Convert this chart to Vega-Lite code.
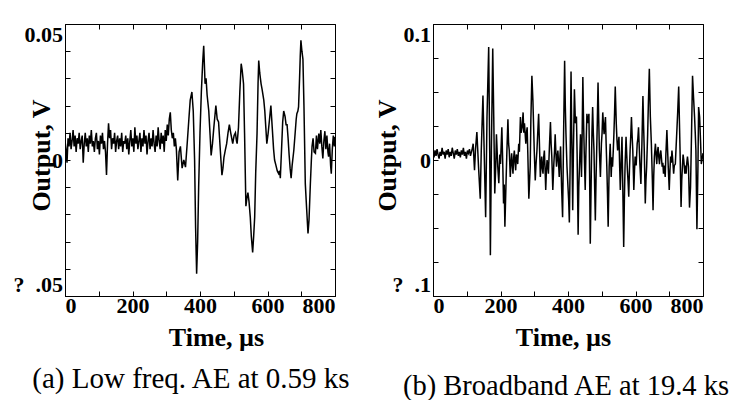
{
"$schema":"https://vega.github.io/schema/vega-lite/v6.json",
"background":"white",
"padding":{"left":12,"top":22,"right":5,"bottom":5},
"bounds":"flush",
"spacing":98,
"config":{
"font":"Times New Roman",
"view":{"stroke":"black","strokeWidth":1},
"axis":{"labelFont":"Times New Roman","titleFont":"Times New Roman","labelColor":"black","titleColor":"black","domainColor":"black","tickColor":"black","grid":false,"labelFontWeight":"bold","titleFontWeight":"bold","labelFontSize":22,"titleFontSize":26,"tickSize":5,"domainWidth":1,"tickWidth":1,"labelOverlap":false,"labelBound":false}
},
"datasets":{
"a":[{"t":0,"v":0.007},{"t":3,"v":0.004},{"t":6,"v":-0.001},{"t":9,"v":0.008},{"t":12,"v":0.005},{"t":15,"v":0.010},{"t":18,"v":0.004},{"t":21,"v":0.007},{"t":24,"v":0.011},{"t":27,"v":0.005},{"t":30,"v":0.009},{"t":33,"v":0.003},{"t":36,"v":0.008},{"t":39,"v":0.006},{"t":42,"v":0.010},{"t":45,"v":0.004},{"t":48,"v":0.007},{"t":51,"v":0.009},{"t":54,"v":-0.001},{"t":57,"v":0.006},{"t":60,"v":0.010},{"t":63,"v":0.005},{"t":66,"v":0.008},{"t":69,"v":0.003},{"t":72,"v":0.009},{"t":75,"v":0.006},{"t":78,"v":0.011},{"t":81,"v":0.005},{"t":84,"v":0.007},{"t":87,"v":0.003},{"t":90,"v":0.008},{"t":93,"v":0.010},{"t":96,"v":0.004},{"t":99,"v":0.007},{"t":102,"v":0.002},{"t":105,"v":0.009},{"t":108,"v":0.006},{"t":111,"v":0.010},{"t":114,"v":0.004},{"t":117,"v":0.007},{"t":120,"v":0.003},{"t":123,"v":-0.0055},{"t":126,"v":0.006},{"t":129,"v":0.0135},{"t":132,"v":0.008},{"t":135,"v":0.011},{"t":138,"v":0.004},{"t":141,"v":0.008},{"t":144,"v":0.006},{"t":147,"v":0.010},{"t":150,"v":0.003},{"t":153,"v":0.007},{"t":156,"v":0.009},{"t":159,"v":0.004},{"t":162,"v":0.008},{"t":165,"v":0.005},{"t":168,"v":0.010},{"t":171,"v":0.003},{"t":174,"v":0.007},{"t":177,"v":0.006},{"t":180,"v":0.009},{"t":183,"v":0.004},{"t":186,"v":0.008},{"t":189,"v":0.002},{"t":192,"v":0.007},{"t":195,"v":0.011},{"t":198,"v":0.005},{"t":201,"v":0.008},{"t":204,"v":0.003},{"t":207,"v":0.012},{"t":210,"v":0.006},{"t":213,"v":0.009},{"t":216,"v":0.004},{"t":219,"v":0.007},{"t":222,"v":0.010},{"t":225,"v":0.003},{"t":228,"v":0.008},{"t":231,"v":0.005},{"t":234,"v":0.011},{"t":237,"v":0.006},{"t":240,"v":0.009},{"t":243,"v":0.002},{"t":246,"v":0.007},{"t":249,"v":0.010},{"t":252,"v":0.004},{"t":255,"v":0.008},{"t":258,"v":0.005},{"t":261,"v":0.011},{"t":264,"v":0.006},{"t":267,"v":0.003},{"t":270,"v":0.009},{"t":273,"v":0.005},{"t":276,"v":0.012},{"t":279,"v":0.007},{"t":282,"v":0.004},{"t":285,"v":0.010},{"t":288,"v":0.006},{"t":291,"v":0.009},{"t":294,"v":0.003},{"t":297,"v":0.011},{"t":300,"v":0.007},{"t":303,"v":0.013},{"t":306,"v":0.009},{"t":309,"v":0.015},{"t":312,"v":0.0175},{"t":315,"v":0.011},{"t":318,"v":0.008},{"t":321,"v":0.010},{"t":324,"v":0.005},{"t":327,"v":0.008},{"t":330,"v":0.004},{"t":334,"v":-0.0075},{"t":338,"v":0.003},{"t":342,"v":0.005},{"t":347,"v":-0.003},{"t":352,"v":0},{"t":357,"v":-0.0026},{"t":362,"v":0.006},{"t":367,"v":0.015},{"t":371,"v":0.022},{"t":376,"v":0.025},{"t":380,"v":0.018},{"t":384,"v":0},{"t":387,"v":-0.025},{"t":390,"v":-0.0418},{"t":393,"v":-0.030},{"t":396,"v":-0.010},{"t":400,"v":0.010},{"t":404,"v":0.025},{"t":408,"v":0.036},{"t":411,"v":0.042},{"t":413,"v":0.035},{"t":415,"v":0.028},{"t":418,"v":0.030},{"t":421,"v":0.024},{"t":426,"v":0.018},{"t":430,"v":0.009},{"t":433,"v":0.0017},{"t":437,"v":0.006},{"t":441,"v":0.012},{"t":444,"v":0.016},{"t":447,"v":0.020},{"t":451,"v":0.015},{"t":455,"v":0.014},{"t":458,"v":0.008},{"t":462,"v":0},{"t":465,"v":-0.0056},{"t":468,"v":-0.003},{"t":471,"v":0.001},{"t":475,"v":0.0036},{"t":479,"v":0.006},{"t":483,"v":0.010},{"t":487,"v":0.013},{"t":491,"v":0.010},{"t":494,"v":0.008},{"t":497,"v":0.006},{"t":501,"v":0.009},{"t":505,"v":0.010},{"t":508,"v":0.007},{"t":510,"v":0.006},{"t":514,"v":0.012},{"t":518,"v":0.025},{"t":522,"v":0.0354},{"t":525,"v":0.033},{"t":529,"v":0.028},{"t":532,"v":0.010},{"t":536,"v":-0.017},{"t":539,"v":-0.014},{"t":542,"v":-0.012},{"t":545,"v":-0.015},{"t":549,"v":-0.021},{"t":552,"v":-0.028},{"t":556,"v":-0.034},{"t":559,"v":-0.028},{"t":562,"v":-0.021},{"t":565,"v":-0.005},{"t":569,"v":0.0097},{"t":572,"v":0.028},{"t":574,"v":0.0366},{"t":577,"v":0.032},{"t":581,"v":0.028},{"t":584,"v":0.026},{"t":589,"v":0.022},{"t":592,"v":0.018},{"t":595,"v":0.012},{"t":598,"v":0.006},{"t":602,"v":0.010},{"t":606,"v":0.015},{"t":610,"v":0.020},{"t":614,"v":0.012},{"t":618,"v":0.004},{"t":621,"v":0},{"t":625,"v":-0.002},{"t":629,"v":-0.004},{"t":633,"v":-0.005},{"t":636,"v":-0.004},{"t":638,"v":-0.0067},{"t":642,"v":0.005},{"t":645,"v":0.014},{"t":648,"v":0.018},{"t":652,"v":0.016},{"t":655,"v":0.013},{"t":658,"v":0.013},{"t":661,"v":0.008},{"t":664,"v":0.002},{"t":667,"v":-0.003},{"t":670,"v":-0.0067},{"t":673,"v":-0.002},{"t":678,"v":0.0036},{"t":682,"v":0.010},{"t":685,"v":0.015},{"t":687,"v":0.017},{"t":690,"v":0.018},{"t":692,"v":0.0195},{"t":695,"v":0.030},{"t":697,"v":0.038},{"t":699,"v":0.044},{"t":702,"v":0.040},{"t":705,"v":0.037},{"t":708,"v":0.020},{"t":712,"v":-0.0087},{"t":716,"v":-0.018},{"t":720,"v":-0.027},{"t":723,"v":-0.022},{"t":727,"v":-0.0087},{"t":730,"v":0},{"t":732,"v":0.005},{"t":735,"v":0.008},{"t":738,"v":0.003},{"t":742,"v":0.0025},{"t":745,"v":0.009},{"t":748,"v":0.004},{"t":752,"v":0.0097},{"t":755,"v":0.006},{"t":758,"v":0.011},{"t":761,"v":0.005},{"t":764,"v":0.0006},{"t":767,"v":0.007},{"t":770,"v":0.0106},{"t":773,"v":0.004},{"t":776,"v":0.009},{"t":779,"v":0.003},{"t":781,"v":0.0012},{"t":784,"v":0.006},{"t":787,"v":-0.002},{"t":789,"v":-0.005},{"t":792,"v":0.004},{"t":795,"v":0.009},{"t":798,"v":0.005},{"t":800,"v":0.0085}],
"b":[{"t":0,"v":0.005},{"t":3,"v":0.002},{"t":6,"v":0.007},{"t":9,"v":0.003},{"t":12,"v":0.008},{"t":15,"v":0.004},{"t":18,"v":0.001},{"t":21,"v":0.006},{"t":24,"v":0.003},{"t":27,"v":0.009},{"t":30,"v":0.004},{"t":33,"v":0.006},{"t":36,"v":0.001},{"t":39,"v":0.007},{"t":42,"v":0.004},{"t":45,"v":0.008},{"t":48,"v":0.002},{"t":51,"v":0.006},{"t":54,"v":0.003},{"t":57,"v":0.009},{"t":60,"v":0.005},{"t":63,"v":0.001},{"t":66,"v":0.007},{"t":69,"v":0.004},{"t":72,"v":0.008},{"t":75,"v":0.003},{"t":78,"v":0.006},{"t":81,"v":0.002},{"t":84,"v":0.007},{"t":87,"v":0.004},{"t":90,"v":0.009},{"t":93,"v":0.003},{"t":96,"v":0.006},{"t":99,"v":0.001},{"t":102,"v":0.007},{"t":105,"v":0.005},{"t":108,"v":0.008},{"t":111,"v":0.003},{"t":114,"v":0.006},{"t":117,"v":0.009},{"t":119,"v":0.012},{"t":123,"v":-0.0076},{"t":126,"v":0.008},{"t":130,"v":0.0206},{"t":135,"v":-0.0054},{"t":140,"v":-0.0284},{"t":143,"v":0.007},{"t":148,"v":0.0475},{"t":152,"v":0.002},{"t":156,"v":-0.042},{"t":160,"v":0.0316},{"t":165,"v":0.083},{"t":168,"v":0.007},{"t":170,"v":-0.070},{"t":173,"v":0.007},{"t":177,"v":0.082},{"t":180,"v":0.0316},{"t":183,"v":-0.0247},{"t":186,"v":-0.004},{"t":188,"v":0.019},{"t":192,"v":-0.0051},{"t":195,"v":-0.017},{"t":198,"v":0.004},{"t":200,"v":-0.0029},{"t":204,"v":0.024},{"t":207,"v":-0.006},{"t":209,"v":-0.032},{"t":211,"v":-0.018},{"t":213,"v":-0.049},{"t":216,"v":-0.02},{"t":219,"v":0.007},{"t":222,"v":0.030},{"t":224,"v":0.012},{"t":226,"v":0.007},{"t":229,"v":-0.0125},{"t":231,"v":-0.002},{"t":233,"v":0.005},{"t":235,"v":-0.004},{"t":237,"v":-0.010},{"t":239,"v":0.002},{"t":241,"v":0.007},{"t":243,"v":-0.002},{"t":245,"v":-0.0076},{"t":247,"v":0.004},{"t":249,"v":0.0025},{"t":251,"v":-0.003},{"t":254,"v":0.012},{"t":256,"v":0.006},{"t":259,"v":0.0316},{"t":261,"v":0.02},{"t":264,"v":0.024},{"t":267,"v":0.035},{"t":269,"v":0.02},{"t":271,"v":0.027},{"t":275,"v":0.012},{"t":277,"v":0.02},{"t":279,"v":0.024},{"t":281,"v":0.004},{"t":284,"v":-0.0284},{"t":288,"v":-0.005},{"t":290,"v":0.03},{"t":293,"v":0.062},{"t":296,"v":0.044},{"t":300,"v":0.007},{"t":303,"v":-0.015},{"t":305,"v":-0.004},{"t":308,"v":0.007},{"t":310,"v":0.018},{"t":313,"v":0.034},{"t":316,"v":0.006},{"t":318,"v":-0.0125},{"t":320,"v":-0.004},{"t":322,"v":0.0025},{"t":324,"v":-0.006},{"t":326,"v":-0.010},{"t":328,"v":0.002},{"t":330,"v":0.007},{"t":332,"v":-0.006},{"t":334,"v":-0.022},{"t":336,"v":-0.008},{"t":338,"v":0},{"t":340,"v":-0.004},{"t":342,"v":-0.010},{"t":345,"v":0.01},{"t":348,"v":0.028},{"t":350,"v":0.012},{"t":352,"v":0.0025},{"t":355,"v":-0.022},{"t":358,"v":-0.003},{"t":360,"v":0.006},{"t":362,"v":0.019},{"t":364,"v":0.006},{"t":366,"v":-0.005},{"t":368,"v":0.002},{"t":370,"v":0.007},{"t":372,"v":-0.002},{"t":374,"v":-0.0125},{"t":376,"v":0.002},{"t":378,"v":0.010},{"t":381,"v":-0.020},{"t":384,"v":-0.042},{"t":387,"v":0.020},{"t":390,"v":0.073},{"t":392,"v":0.04},{"t":394,"v":0.019},{"t":397,"v":-0.005},{"t":400,"v":-0.02},{"t":402,"v":-0.03},{"t":404,"v":-0.046},{"t":406,"v":-0.01},{"t":409,"v":0.065},{"t":411,"v":0.02},{"t":414,"v":-0.037},{"t":416,"v":0.006},{"t":419,"v":0.052},{"t":422,"v":0.027},{"t":425,"v":0.032},{"t":427,"v":0.004},{"t":430,"v":-0.055},{"t":432,"v":-0.02},{"t":434,"v":-0.005},{"t":437,"v":0.019},{"t":440,"v":-0.0125},{"t":442,"v":0.02},{"t":444,"v":0.061},{"t":446,"v":0.03},{"t":448,"v":0.007},{"t":451,"v":-0.022},{"t":453,"v":0.004},{"t":456,"v":0.034},{"t":459,"v":0.027},{"t":462,"v":0.034},{"t":464,"v":-0.01},{"t":466,"v":-0.0615},{"t":469,"v":-0.01},{"t":471,"v":0.02},{"t":473,"v":0.039},{"t":475,"v":0.02},{"t":477,"v":0.007},{"t":479,"v":-0.02},{"t":481,"v":-0.0445},{"t":483,"v":-0.015},{"t":485,"v":0.007},{"t":487,"v":0.03},{"t":489,"v":0.057},{"t":491,"v":0.03},{"t":493,"v":0.007},{"t":496,"v":-0.0125},{"t":499,"v":0.012},{"t":501,"v":0.02},{"t":503,"v":0.035},{"t":505,"v":0.026},{"t":507,"v":0.019},{"t":509,"v":0.026},{"t":511,"v":0.0316},{"t":513,"v":0.012},{"t":515,"v":-0.005},{"t":517,"v":-0.025},{"t":519,"v":-0.049},{"t":522,"v":-0.005},{"t":525,"v":0.012},{"t":528,"v":-0.0125},{"t":530,"v":0.002},{"t":532,"v":-0.005},{"t":534,"v":0.006},{"t":536,"v":0.019},{"t":538,"v":0.035},{"t":540,"v":0.054},{"t":543,"v":0.027},{"t":545,"v":0.015},{"t":547,"v":0.007},{"t":549,"v":0.012},{"t":551,"v":0.017},{"t":553,"v":-0.004},{"t":555,"v":-0.022},{"t":558,"v":0.0025},{"t":560,"v":0.017},{"t":563,"v":-0.03},{"t":565,"v":-0.064},{"t":567,"v":-0.03},{"t":569,"v":-0.005},{"t":572,"v":0.017},{"t":574,"v":0.004},{"t":576,"v":-0.0076},{"t":578,"v":-0.016},{"t":580,"v":-0.027},{"t":582,"v":-0.008},{"t":584,"v":0.007},{"t":586,"v":0.018},{"t":588,"v":0.0316},{"t":590,"v":0.018},{"t":592,"v":0.007},{"t":595,"v":-0.022},{"t":597,"v":-0.008},{"t":599,"v":0.0025},{"t":602,"v":-0.004},{"t":605,"v":0.012},{"t":607,"v":0.016},{"t":609,"v":0.024},{"t":611,"v":0.01},{"t":613,"v":-0.003},{"t":616,"v":-0.0176},{"t":619,"v":0.012},{"t":622,"v":0.047},{"t":624,"v":0.025},{"t":626,"v":0.007},{"t":629,"v":-0.032},{"t":631,"v":-0.015},{"t":633,"v":-0.005},{"t":636,"v":0.019},{"t":638,"v":0.04},{"t":641,"v":0.067},{"t":644,"v":0.0316},{"t":647,"v":0.012},{"t":650,"v":-0.015},{"t":652,"v":-0.037},{"t":654,"v":-0.012},{"t":656,"v":0.0025},{"t":659,"v":0.012},{"t":661,"v":0.004},{"t":663,"v":-0.003},{"t":665,"v":0.006},{"t":667,"v":0.0096},{"t":669,"v":0.002},{"t":671,"v":-0.003},{"t":673,"v":0.004},{"t":675,"v":0.007},{"t":677,"v":0.001},{"t":679,"v":-0.005},{"t":681,"v":-0.002},{"t":683,"v":-0.010},{"t":685,"v":-0.004},{"t":688,"v":-0.0125},{"t":690,"v":0.004},{"t":693,"v":0.022},{"t":695,"v":0.008},{"t":697,"v":-0.005},{"t":700,"v":-0.022},{"t":702,"v":-0.008},{"t":704,"v":0.0025},{"t":706,"v":-0.002},{"t":708,"v":0.007},{"t":710,"v":0.001},{"t":713,"v":-0.010},{"t":715,"v":-0.004},{"t":718,"v":-0.003},{"t":720,"v":0.008},{"t":723,"v":0.024},{"t":725,"v":0.035},{"t":728,"v":0.054},{"t":730,"v":0.03},{"t":732,"v":0.007},{"t":735,"v":-0.0345},{"t":737,"v":-0.015},{"t":739,"v":-0.005},{"t":741,"v":0.004},{"t":743,"v":0},{"t":745,"v":-0.006},{"t":746,"v":-0.010},{"t":748,"v":-0.004},{"t":750,"v":-0.010},{"t":752,"v":-0.002},{"t":754,"v":0.0025},{"t":757,"v":-0.005},{"t":760,"v":-0.035},{"t":763,"v":-0.020},{"t":766,"v":0.019},{"t":769,"v":0.062},{"t":772,"v":0.046},{"t":775,"v":0.0316},{"t":777,"v":0.02},{"t":779,"v":0.007},{"t":782,"v":-0.051},{"t":785,"v":-0.005},{"t":787,"v":0.039},{"t":790,"v":0.0316},{"t":793,"v":0.012},{"t":795,"v":-0.003},{"t":797,"v":0},{"t":800,"v":0.005}]
},
"hconcat":[
{
"width":270,"height":272,
"data":{"name":"a"},
"title":{"text":"(a) Low freq. AE at 0.59 ks","orient":"bottom","frame":"group","anchor":"middle","dx":-9,"offset":15,"font":"Times New Roman","fontSize":29,"fontWeight":"normal","color":"black"},
"layer":[
{"mark":{"type":"line","color":"black","strokeWidth":1.5,"clip":true},
"encoding":{
"x":{"field":"t","type":"quantitative","scale":{"domain":[0,800],"nice":false,"zero":false},"axis":{"orient":"bottom","values":[0,200,400,600,800],"ticks":false,"labelPadding":-1,"title":"Time, µs","titleX":151,"titleY":49,"titleBaseline":"alphabetic"}},
"y":{"field":"v","type":"quantitative","scale":{"domain":[-0.05,0.05],"nice":false,"zero":false},"axis":{"orient":"left","values":[-0.05,0,0.05],"ticks":false,"labelExpr":"datum.value > 0.049 ? '0.05' : (datum.value < -0.049 ? '? \u00a0.05' : '0')","labelFlush":true,"labelPadding":2.5,"title":"Output, V","titleX":-16,"titleY":131,"titleBaseline":"alphabetic"}}
}},
{"mark":{"type":"line","opacity":0},
"encoding":{
"x":{"field":"t","type":"quantitative","axis":{"orient":"top","offset":-272,"domain":false,"values":[0,100,200,300,400,500,600,700,800],"labels":false,"title":null}},
"y":{"field":"v","type":"quantitative","axis":{"orient":"right","offset":-270,"domain":false,"values":[-0.05,-0.04,-0.03,-0.02,-0.01,0,0.01,0.02,0.03,0.04,0.05],"labels":false,"title":null}}
}},
{"mark":{"type":"line","opacity":0},
"encoding":{
"x":{"field":"t","type":"quantitative","axis":{"orient":"bottom","offset":-272,"domain":false,"values":[0,100,200,300,400,500,600,700,800],"labels":false,"title":null}},
"y":{"field":"v","type":"quantitative","axis":{"orient":"left","offset":-270,"domain":false,"values":[-0.05,-0.04,-0.03,-0.02,-0.01,0,0.01,0.02,0.03,0.04,0.05],"labels":false,"title":null}}
}}
],
"resolve":{"axis":{"x":"independent","y":"independent"}}
},
{
"width":270,"height":272,
"data":{"name":"b"},
"title":{"text":"(b) Broadband AE at 19.4 ks","orient":"bottom","frame":"group","anchor":"middle","dx":-2,"offset":22,"font":"Times New Roman","fontSize":28.5,"fontWeight":"normal","color":"black"},
"layer":[
{"mark":{"type":"line","color":"black","strokeWidth":1.5,"clip":true},
"encoding":{
"x":{"field":"t","type":"quantitative","scale":{"domain":[0,800],"nice":false,"zero":false},"axis":{"orient":"bottom","values":[0,200,400,600,800],"ticks":false,"labelPadding":-1,"title":"Time, µs","titleX":130,"titleY":49,"titleBaseline":"alphabetic"}},
"y":{"field":"v","type":"quantitative","scale":{"domain":[-0.1,0.1],"nice":false,"zero":false},"axis":{"orient":"left","values":[-0.1,0,0.1],"ticks":false,"labelExpr":"datum.value > 0.099 ? '0.1' : (datum.value < -0.099 ? '? \u00a0.1' : '0')","labelFlush":true,"labelPadding":2.5,"title":"Output, V","titleX":-38,"titleY":131,"titleBaseline":"alphabetic"}}
}},
{"mark":{"type":"line","opacity":0},
"encoding":{
"x":{"field":"t","type":"quantitative","axis":{"orient":"top","offset":-272,"domain":false,"values":[0,100,200,300,400,500,600,700,800],"labels":false,"title":null}},
"y":{"field":"v","type":"quantitative","axis":{"orient":"right","offset":-270,"domain":false,"values":[-0.1,-0.075,-0.05,-0.025,0,0.025,0.05,0.075,0.1],"labels":false,"title":null}}
}},
{"mark":{"type":"line","opacity":0},
"encoding":{
"x":{"field":"t","type":"quantitative","axis":{"orient":"bottom","offset":-272,"domain":false,"values":[0,100,200,300,400,500,600,700,800],"labels":false,"title":null}},
"y":{"field":"v","type":"quantitative","axis":{"orient":"left","offset":-270,"domain":false,"values":[-0.1,-0.075,-0.05,-0.025,0,0.025,0.05,0.075,0.1],"labels":false,"title":null}}
}}
],
"resolve":{"axis":{"x":"independent","y":"independent"}}
}
]
}
